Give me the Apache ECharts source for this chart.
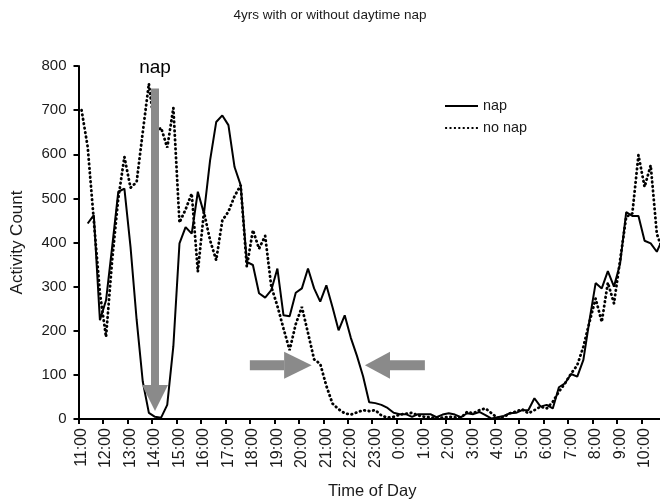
<!DOCTYPE html>
<html>
<head>
<meta charset="utf-8">
<title>4yrs with or without daytime nap</title>
<script src="https://cdn.jsdelivr.net/npm/echarts@6/dist/echarts.min.js"></script>
<style>
  html, body { margin: 0; padding: 0; background: #fff; }
  #chart { width: 660px; height: 503px; }
</style>
</head>
<body>
<div id="chart"></div>
<script>
// hourly tick labels (data is in 15 min steps, 4 per hour)
var hourLabels = ["11:00", "12:00", "13:00", "14:00", "15:00", "16:00", "17:00", "18:00",
  "19:00", "20:00", "21:00", "22:00", "23:00", "0:00", "1:00", "2:00", "3:00", "4:00",
  "5:00", "6:00", "7:00", "8:00", "9:00", "10:00"];
var quarters = [":00", ":15", ":30", ":45"];

var napData = [null, 443, 462, 224, 269, 390, 515, 522, 390, 225, 85, 14, 5, 3, 32, 165,
  398, 435, 420, 515, 466, 586, 673, 688, 666, 571, 530, 356, 349, 285, 275, 292,
  341, 235, 233, 286, 296, 341, 296, 266, 303, 254, 201, 235, 184, 143, 97, 38,
  36, 32, 25, 14, 11, 11, 5, 11, 11, 11, 4, 10, 13, 10, 4, 13,
  11, 16, 9, 1, 4, 7, 13, 14, 20, 20, 47, 28, 32, 24, 72, 81,
  102, 96, 134, 224, 308, 296, 335, 300, 352, 469, 460, 460, 404, 398, 379, 410];

var noNapData = [700, 617, 450, 285, 186, 360, 500, 594, 524, 537, 650, 760, 650, 660, 615, 705,
  445, 475, 511, 334, 469, 405, 360, 450, 470, 505, 530, 345, 428, 386, 415, 300,
  256, 205, 156, 215, 254, 195, 135, 125, 75, 35, 22, 13, 10, 15, 20, 18,
  20, 8, 3, 5, 10, 12, 14, 8, 5, 4, 2, 3, 5, 4, 3, 16,
  13, 20, 24, 13, 2, 5, 13, 17, 22, 13, 20, 28, 24, 39, 62, 81,
  103, 122, 164, 220, 273, 220, 309, 262, 360, 458, 466, 598, 526, 575, 420, 380];

var yMin = 0, yMax = 800, yStep = 100;

// arrows: [category index, value] along the arrow, head base, tip
var napArrow = { x: 12, from: 749, headAt: 77, tip: 18 };
var eveningArrows = [
  { y: 122, from: 27.5, headAt: 33.1, tip: 37.6 },
  { y: 122, from: 56.1, headAt: 50.4, tip: 46.3 }
];

var categories = [];
hourLabels.forEach(function (h) {
  var hh = h.split(":")[0];
  quarters.forEach(function (q) { categories.push(hh + q); });
});

var font = "'Liberation Sans', Arial, sans-serif";
var txt = "#1a1a1a";

// legend icons: a solid bar and a row of dots
var solidIcon = "path://M0,0h33v2h-33z";
var dotIcon = "path://";
for (var d = 0; d < 8; d++) {
  dotIcon += "M" + (d * 4.4) + ",0h2v2h-2z";
}

var myChart = echarts.init(document.getElementById("chart"));
myChart.setOption({
  animation: false,
  backgroundColor: "#fff",
  textStyle: { fontFamily: font },
  title: {
    text: "4yrs with or without daytime nap",
    left: "center",
    top: 3,
    textStyle: { fontSize: 13.5, fontWeight: "normal", color: txt, fontFamily: font }
  },
  legend: {
    orient: "vertical",
    left: 440,
    top: 94,
    itemWidth: 33,
    itemHeight: 2,
    itemGap: 8,
    textStyle: { fontSize: 14.4, color: txt, fontFamily: font },
    data: [
      { name: "nap", icon: solidIcon },
      { name: "no nap", icon: dotIcon }
    ]
  },
  // plot runs a little past the right edge, as in the cropped original
  grid: { left: 78.5, top: 66, width: 587.5, height: 353, containLabel: false, outerBoundsMode: "none" },
  xAxis: {
    type: "category",
    data: categories,
    boundaryGap: true,
    name: "Time of Day",
    nameLocation: "middle",
    nameGap: 64,
    nameTextStyle: { fontSize: 16.5, color: txt, fontFamily: font },
    axisLine: { show: true, lineStyle: { color: "#000", width: 2 } },
    axisTick: { show: true, interval: 3, length: 5, lineStyle: { color: "#000", width: 2 } },
    axisLabel: { interval: 3, rotate: 90, fontSize: 16, color: txt, margin: 9, fontFamily: font },
    splitLine: { show: false }
  },
  yAxis: {
    type: "value",
    min: yMin,
    max: yMax,
    interval: yStep,
    name: "Activity Count",
    nameLocation: "middle",
    nameGap: 53,
    nameTextStyle: { fontSize: 17, color: txt, fontFamily: font },
    axisLine: { show: true, lineStyle: { color: "#000", width: 2 } },
    axisTick: { show: true, length: 5, lineStyle: { color: "#000", width: 2 } },
    axisLabel: { fontSize: 15, color: txt, margin: 12, fontFamily: font },
    splitLine: { show: false }
  },
  series: [
    {
      name: "nap",
      type: "line",
      data: napData,
      symbol: "none",
      lineStyle: { color: "#000", width: 2 },
      itemStyle: { color: "#000" }
    },
    {
      name: "no nap",
      type: "line",
      data: noNapData,
      symbol: "none",
      lineStyle: { color: "#000", width: 2.8, type: [0.5, 4], cap: "round" },
      itemStyle: { color: "#000" }
    }
  ]
});

// position arrows through the chart's own scales
function px(ci, v) {
  var p0 = myChart.convertToPixel({ gridIndex: 0 }, [0, v]);
  var p1 = myChart.convertToPixel({ gridIndex: 0 }, [1, v]);
  return [p0[0] + ci * (p1[0] - p0[0]), p0[1]];
}
var grey = "#8a8a8a";
var shapes = [];

var na = napArrow;
var shaftTop = px(na.x, na.from), headBase = px(na.x, na.headAt), headTip = px(na.x, na.tip);
shapes.push({ type: "rect", shape: { x: shaftTop[0] - 4, y: shaftTop[1], width: 8, height: headBase[1] - shaftTop[1] }, style: { fill: grey }, z: 10 });
shapes.push({ type: "polygon", shape: { points: [[headBase[0] - 13, headBase[1]], [headBase[0] + 13, headBase[1]], [headTip[0], headTip[1]]] }, style: { fill: grey }, z: 10 });
shapes.push({ type: "text", x: shaftTop[0], y: px(na.x, 797)[1], style: { text: "nap", fontSize: 19, fill: "#000", fontFamily: font, align: "center", verticalAlign: "middle" }, z: 10 });

eveningArrows.forEach(function (e) {
  var s = px(e.from, e.y), b = px(e.headAt, e.y), t = px(e.tip, e.y);
  shapes.push({ type: "rect", shape: { x: Math.min(s[0], b[0]), y: s[1] - 5, width: Math.abs(b[0] - s[0]), height: 10 }, style: { fill: grey }, z: 10 });
  shapes.push({ type: "polygon", shape: { points: [[b[0], b[1] - 13.5], [b[0], b[1] + 13.5], [t[0], t[1]]] }, style: { fill: grey }, z: 10 });
});

myChart.setOption({ graphic: shapes });
</script>
</body>
</html>
